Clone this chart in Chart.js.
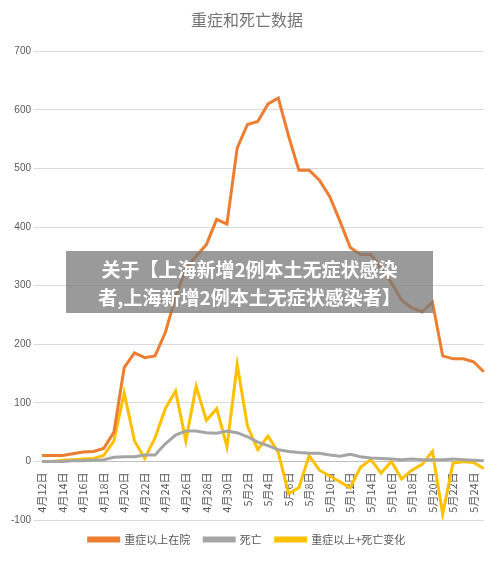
<!DOCTYPE html>
<html>
<head>
<meta charset="utf-8">
<script src="https://cdn.jsdelivr.net/npm/chart.js@4"></script>
<style>
body { margin:0; background:#fff; font-family:"Noto Sans CJK SC", sans-serif; }
#wrap { position:relative; width:500px; height:565px; }
#banner { position:absolute; left:66px; top:251px; width:367px; height:62px; background:rgba(120,120,120,0.75);
  color:#fff; font-weight:bold; font-size:19px; line-height:28px; padding-top:4px; box-sizing:border-box; text-align:center; }
</style>
</head>
<body>
<div id="wrap">
<canvas id="c" width="500" height="565"></canvas>
<div id="banner">关于【上海新增2例本土无症状感染<br>者,上海新增2例本土无症状感染者】</div>
</div>
<script>
var fechas = [];
for (var d = 12; d <= 30; d++) fechas.push('4月' + d + '日');
for (var d = 1; d <= 25; d++) fechas.push('5月' + d + '日');

var zhongzheng = [10,10,10,13,16,17,22,50,160,185,177,180,220,280,330,350,370,413,405,535,575,580,610,620,555,497,497,480,452,410,365,353,353,330,305,275,262,255,272,180,175,175,170,153];
var siwang = [0,0,0,1,1,2,3,7,8,8,11,11,30,45,52,52,49,48,52,49,42,33,27,20,17,15,14,14,11,9,12,8,6,5,4,3,4,3,3,3,4,3,2,1];
var bianhua = [null,0,2,3,4,5,10,35,117,35,5,40,90,120,35,128,70,90,25,165,60,20,43,15,-55,-45,10,-15,-25,-35,-45,-10,3,-20,0,-30,-15,-5,17,-90,-3,0,-2,-12];

function serie(label, color, datos) {
    return { label: label, data: datos, borderColor: color, backgroundColor: color, borderWidth: 3, pointRadius: 0, tension: 0 };
}

new Chart(document.getElementById('c').getContext('2d'), {
    type: 'line',
    data: {
        labels: fechas,
        datasets: [
            serie('重症以上在院', '#ED7D31', zhongzheng),
            serie('死亡', '#A5A5A5', siwang),
            serie('重症以上+死亡变化', '#FFC000', bianhua)
        ]
    },
    options: {
        responsive: false,
        animation: false,
        layout: { padding: { left: 8, right: 14, top: 6, bottom: 10 } },
        plugins: {
            title: { display: true, text: '重症和死亡数据', color: '#757575', font: { size: 16, weight: 'normal', family: 'Noto Sans CJK SC' }, padding: { top: 4, bottom: 22 } },
            legend: { position: 'bottom', labels: { boxWidth: 30, boxHeight: 3, padding: 14, color: '#595959', font: { size: 11, family: 'Noto Sans CJK SC' } } }
        },
        scales: {
            x: {
                position: { y: 0 },
                grid: { display: false },
                border: { color: '#BFBFBF' },
                ticks: {
                    autoSkip: false, minRotation: 90, maxRotation: 90, color: '#595959',
                    font: { size: 11, family: 'Noto Sans CJK SC' },
                    callback: function(v, i) { return i % 2 === 0 ? fechas[i] : ''; }
                }
            },
            y: {
                min: -100, max: 700,
                ticks: { stepSize: 100, color: '#595959', font: { size: 10 } },
                grid: { color: '#D9D9D9' },
                border: { display: false }
            }
        }
    }
});
</script>
</body>
</html>
